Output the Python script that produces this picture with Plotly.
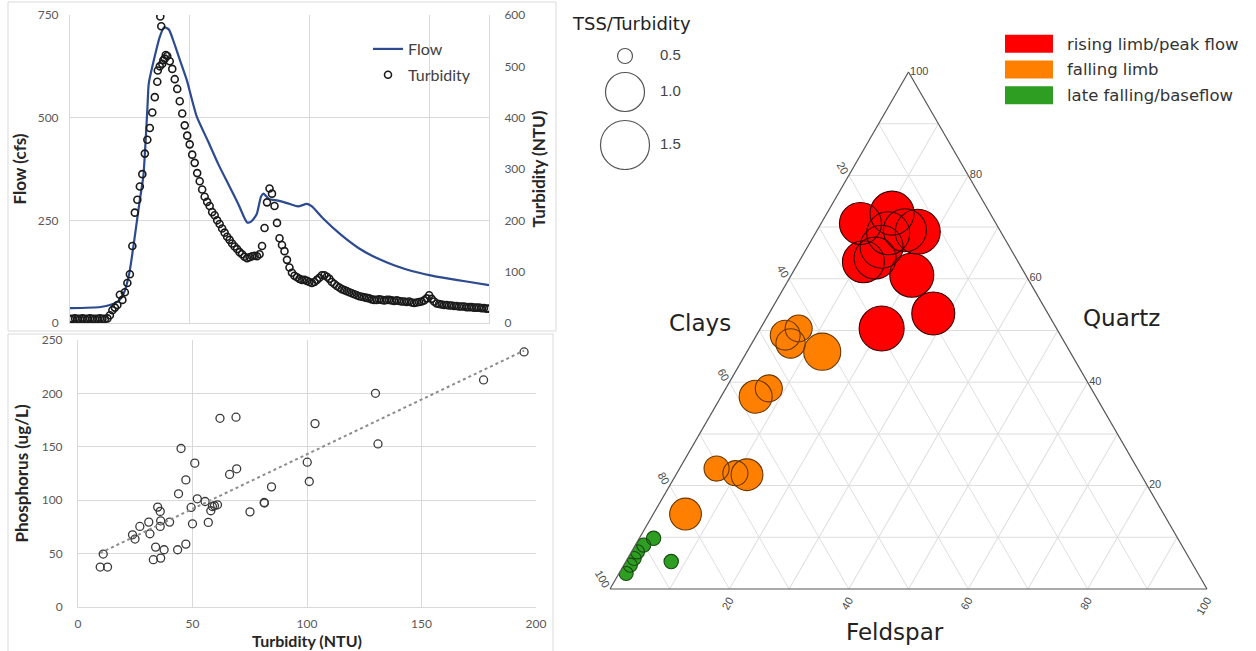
import numpy as np
import plotly.graph_objects as go

W, H = 1256, 651

# ---------------- Hydrograph data (top-left) ----------------
flow_hours = [0, 6.1, 8.3, 9.7, 10.8, 11.9, 12.9, 14.0, 14.7, 15.5, 15.8, 16.9, 18.0, 18.9,
              19.8, 20.9, 21.9, 23.4, 25.4, 27.7, 29.8, 32.0, 33.8, 35.5, 36.3, 37.4, 38.3,
              38.8, 39.9, 41.7, 43.5, 45.7, 47.5, 48.5, 50.7, 54.3, 57.9, 61.5, 65.1, 68.7,
              72.3, 75.9, 79.5, 84.0]
flow_cfs = [36, 39, 45, 53, 73, 122, 203, 300, 357, 519, 584, 645, 697, 720,
            715, 681, 645, 592, 503, 442, 385, 332, 288, 245, 247, 264, 308,
            315, 302, 298, 292, 284, 290, 284, 255, 215, 182, 158, 140, 126,
            116, 108, 101, 92]

turb_step_hours = 0.5
turb_ntu = [8, 8, 9, 8, 8, 9, 8, 8, 9, 8, 8, 8, 9, 8, 8, 9,
            15, 25, 30, 35, 55, 45, 60, 78, 95, 150, 215, 240, 266, 290, 330, 357,
            380, 410, 440, 470, 500, 505, 515, 520, 510, 495, 475, 456, 432, 408,
            385, 365, 348, 328, 312, 292, 276, 260, 246, 236, 228, 216, 210, 200,
            193, 184, 176, 168, 162, 155, 149, 144, 138, 134, 129, 126, 128, 130,
            131, 130, 134, 150, 185, 235, 262, 252, 228, 195, 165, 152, 140, 123,
            108, 98, 92, 89, 86, 84, 84, 82, 80, 78, 80, 84, 88, 93, 93, 90, 86,
            80, 76, 72, 69, 66, 64, 62, 60, 58, 56, 54, 52, 51, 50, 49, 48, 46,
            45, 45, 46, 45, 44, 45, 45, 44, 43, 44, 43, 42, 42, 41, 42, 40, 39,
            40, 41, 42, 44, 48, 54, 47, 42, 38, 37, 36, 35, 35, 34, 34, 33, 33,
            32, 32, 32, 31, 31, 31, 30, 30, 30, 29, 29, 28, 28]
turb_extra_hours = [17.6, 18.1, 18.3, 18.7, 19.2]
turb_extra_ntu = [492, 597, 578, 512, 522]

# ---------------- Turbidity vs phosphorus (bottom-left) ----------------
turb_p = [9.7, 12.9, 11.0, 23.8, 24.9, 27.0, 30.9, 31.4, 32.9, 33.9, 34.8, 35.9, 36.1, 35.9,
          36.1, 37.6, 40.0, 43.5, 43.9, 45.0, 47.1, 47.1, 49.4, 50.0, 51.0, 52.1, 55.5, 56.9,
          58.0, 58.7, 59.6, 60.9, 62.0, 66.2, 69.0, 69.3, 75.1, 81.3, 81.4, 84.5, 100.1,
          101.0, 103.5, 129.9, 131.0, 177.1, 194.8]
phos = [37.4, 37.4, 49.6, 67.6, 63.6, 75.4, 79.5, 68.6, 44.3, 56.1, 93.5, 89.5, 80.7, 75.4,
        45.8, 53.6, 79.5, 53.6, 106.0, 148.4, 119.0, 58.9, 93.2, 77.9, 134.7, 101.3, 98.8, 79.2,
        90.1, 94.1, 94.8, 95.7, 176.7, 124.1, 177.7, 129.4, 89.1, 97.9, 97.3, 112.5, 135.6,
        117.5, 171.7, 200.1, 152.7, 212.6, 238.8]

# ---------------- Ternary data (right) ----------------
quartz = [70.7, 72.7, 69.1, 68.8, 69.4, 66.2, 63.3, 64.0, 60.7, 53.3, 50.4,
          50.4, 49.1, 47.5, 45.9, 37.2, 38.8, 23.3, 22.4, 22.1, 14.5,
          9.8, 8.5, 7.2, 5.9, 4.6, 3.0, 5.3]
clays = [22.7, 16.4, 13.9, 19.0, 15.9, 21.4, 25.9, 23.6, 19.1, 19.2, 29.3,
         43.2, 46.1, 46.0, 41.5, 57.0, 54.0, 70.5, 67.8, 66.0, 80.1,
         87.8, 90.1, 91.8, 93.0, 94.3, 95.8, 87.1]
feldspar = [6.6, 10.9, 17.0, 12.2, 14.7, 12.4, 10.8, 12.4, 20.2, 27.5, 20.3,
            6.4, 4.8, 6.5, 12.6, 5.8, 7.2, 6.2, 9.8, 11.9, 5.4,
            2.4, 1.4, 1.0, 1.1, 1.1, 1.2, 7.6]
tss_ratio = [1.15, 1.25, 1.3, 1.2, 1.2, 1.2, 1.15, 1.15, 1.25, 1.2, 1.3,
             0.75, 0.81, 0.8, 0.96, 0.875, 0.75, 0.71, 0.71, 0.85, 0.85,
             0.48, 0.47, 0.47, 0.47, 0.47, 0.47, 0.48]
phase = [0] * 11 + [1] * 10 + [2] * 7

phase_names = ["rising limb/peak flow", "falling limb", "late falling/baseflow"]
phase_fill = ["#ff0000", "#ff8000", "#2e9e22"]
phase_edge = ["#3a0000", "#6a3600", "#174a10"]

size_legend_ratios = [0.5, 1.0, 1.5]
size_legend_labels = ["0.5", "1.0", "1.5"]

ternary_ticks = [0, 10, 20, 30, 40, 50, 60, 70, 80, 90]


def ratio_to_diameter(r):
    return np.interp(r, [0, 0.5, 1.0, 1.5, 2.0], [0, 15, 39, 49, 59])


def ternary_ticktext(vals):
    return [str(100 - v) if v % 20 == 0 else "" for v in vals]


def px_x(p):
    return p / W


def px_y(p):
    return 1 - p / H


grid = "#d9d9d9"
tickc = "#595959"
lfont = "Lato"
tfont = "DejaVu Sans"

fig = go.Figure()

# ---- top-left hydrograph ----
turb_hours = list(np.arange(len(turb_ntu)) * turb_step_hours) + turb_extra_hours
turb_all = turb_ntu + turb_extra_ntu
fig.add_trace(go.Scatter(x=flow_hours, y=flow_cfs, mode="lines", name="Flow",
                         line=dict(color="#2b4a8f", width=2.2, shape="spline", smoothing=0.6),
                         xaxis="x", yaxis="y", legendgroup="flow"))
fig.add_trace(go.Scatter(x=turb_hours, y=turb_all, mode="markers", name="Turbidity",
                         marker=dict(symbol="circle-open", size=7, color="#1a1a1a",
                                     line=dict(width=1.6), opacity=1),
                         xaxis="x", yaxis="y2", legendgroup="turb"))

# ---- bottom-left scatter ----
fig.add_trace(go.Scatter(x=turb_p, y=phos, mode="markers", showlegend=False,
                         marker=dict(symbol="circle-open", size=8, color="#3a3a3a",
                                     line=dict(width=1.3), opacity=1),
                         xaxis="x2", yaxis="y3"))
slope, intercept = np.polyfit(turb_p, phos, 1)
fit_x = np.array([min(turb_p), max(turb_p)])
fig.add_trace(go.Scatter(x=fit_x, y=slope * fit_x + intercept, mode="lines", showlegend=False,
                         line=dict(color="#8c8c8c", width=2, dash="dot"),
                         xaxis="x2", yaxis="y3"))

# ---- ternary ----
diam = ratio_to_diameter(np.array(tss_ratio))
fills = [phase_fill[p] for p in phase]
edges = [phase_edge[p] for p in phase]
fig.add_trace(go.Scatterternary(a=quartz, b=clays, c=feldspar, mode="markers",
                                marker=dict(size=diam, color=fills, line=dict(width=0),
                                            opacity=1),
                                showlegend=False, subplot="ternary"))
fig.add_trace(go.Scatterternary(a=quartz, b=clays, c=feldspar, mode="markers",
                                marker=dict(symbol="circle-open", size=diam, color=edges,
                                            line=dict(width=1.1), opacity=1),
                                showlegend=False, subplot="ternary"))

# ---- size legend (pixel-scaled hidden axes) ----
leg_d = ratio_to_diameter(np.array(size_legend_ratios))
gap = 9
top = 48.5
centers = []
for d in leg_d:
    centers.append(top + d / 2)
    top += d + gap
fig.add_trace(go.Scatter(x=[625] * 3, y=centers, mode="markers", showlegend=False,
                         marker=dict(symbol="circle-open", size=leg_d, color="#555555",
                                     line=dict(width=1.2), opacity=1),
                         xaxis="x3", yaxis="y4"))
fig.add_trace(go.Scatter(x=[660] * 3, y=centers, mode="text", text=size_legend_labels,
                         textposition="middle right", showlegend=False,
                         textfont=dict(family="Liberation Sans", size=15, color="#444444"),
                         xaxis="x3", yaxis="y4"))

# ---- color legend as bars ----
fig.add_trace(go.Bar(y=phase_names, x=[1, 1, 1], orientation="h", showlegend=False,
                     marker=dict(color=phase_fill, line=dict(width=0)),
                     xaxis="x4", yaxis="y5", hoverinfo="skip"))

title_font = dict(family=lfont, size=17, color="#262626", weight="bold")
tick_font = dict(family=lfont, size=12, color=tickc)
ann_font = dict(family=tfont, size=23, color="#222222")

fig.update_layout(
    width=W, height=H, margin=dict(l=0, r=0, t=0, b=0, autoexpand=False),
    paper_bgcolor="white", plot_bgcolor="white",
    bargap=0.3,
    showlegend=True,
    legend=dict(x=px_x(368), y=px_y(32), xanchor="left", yanchor="top",
                bgcolor="rgba(0,0,0,0)", font=dict(family=lfont, size=16, color="#404040"),
                tracegroupgap=2, itemwidth=30),
    xaxis=dict(domain=[px_x(70), px_x(489)], range=[0, 84], tickvals=[24, 48, 72],
               showticklabels=False, showgrid=True, gridcolor=grid, zeroline=False,
               showline=True, linecolor=grid, ticks="", anchor="y", automargin=False),
    yaxis=dict(domain=[px_y(323), px_y(15)], range=[0, 750], tickvals=[0, 250, 500, 750],
               showgrid=True, gridcolor=grid, zeroline=False, showline=True, linecolor=grid,
               tickfont=tick_font, ticklabelstandoff=8, automargin=False,
               title=dict(text="Flow (cfs)", font=title_font, standoff=6),
               anchor="x"),
    yaxis2=dict(overlaying="y", side="right", range=[0, 600],
                tickvals=[0, 100, 200, 300, 400, 500, 600], showgrid=False, zeroline=False,
                showline=True, linecolor=grid, automargin=False,
                tickfont=tick_font, ticklabelstandoff=12,
                title=dict(text="Turbidity (NTU)", font=title_font, standoff=8),
                anchor="x"),
    xaxis2=dict(domain=[px_x(78), px_x(536)], range=[0, 200], tickvals=[0, 50, 100, 150, 200],
                showgrid=True, gridcolor=grid, zeroline=False, showline=True, linecolor=grid,
                tickfont=tick_font, ticklabelstandoff=6, automargin=False,
                title=dict(text="Turbidity (NTU)",
                           font=dict(family=lfont, size=16, color="#262626", weight="bold"),
                           standoff=5),
                anchor="y3"),
    yaxis3=dict(domain=[px_y(607), px_y(340)], range=[0, 250], tickvals=[0, 50, 100, 150, 200, 250],
                showgrid=True, gridcolor=grid, zeroline=False, showline=True, linecolor=grid,
                tickfont=tick_font, ticklabelstandoff=12, automargin=False,
                title=dict(text="Phosphorus (ug/L)", font=title_font, standoff=8),
                anchor="x2"),
    xaxis3=dict(domain=[px_x(590), px_x(700)], range=[590, 700], visible=False, anchor="y4",
                automargin=False),
    yaxis4=dict(domain=[px_y(170), px_y(30)], range=[170, 30], visible=False, anchor="x3",
                automargin=False),
    xaxis4=dict(domain=[px_x(1005), px_x(1053)], range=[0, 1], visible=False, anchor="y5",
                automargin=False),
    yaxis5=dict(domain=[px_y(108), px_y(31)], type="category", autorange="reversed",
                side="right", showgrid=False, showline=False, zeroline=False, ticks="",
                ticklabelstandoff=13, automargin=False,
                tickfont=dict(family=tfont, size=16.5, color="#333333"), anchor="x4"),
    ternary=dict(
        domain=dict(x=[px_x(609), px_x(1208)], y=[px_y(589), px_y(72)]),
        sum=100, bgcolor="white",
        aaxis=dict(title=dict(text=""), tickmode="array", tickvals=ternary_ticks,
                   ticktext=ternary_ticktext(ternary_ticks), tickangle=60,
                   tickfont=dict(family="Liberation Sans", size=11, color="#4a4a4a"),
                   ticks="", linecolor="#555555", linewidth=1.2, gridcolor="#dedede",
                   gridwidth=1, showgrid=True),
        baxis=dict(title=dict(text=""), tickmode="array", tickvals=ternary_ticks,
                   ticktext=ternary_ticktext(ternary_ticks), tickangle=-60,
                   tickfont=dict(family="Liberation Sans", size=11, color="#4a4a4a"),
                   ticks="", linecolor="#555555", linewidth=1.2, gridcolor="#dedede",
                   gridwidth=1, showgrid=True),
        caxis=dict(title=dict(text=""), tickmode="array", tickvals=ternary_ticks,
                   ticktext=ternary_ticktext(ternary_ticks), tickangle=0,
                   tickfont=dict(family="Liberation Sans", size=11, color="#4a4a4a"),
                   ticks="", linecolor="#555555", linewidth=1.2, gridcolor="#dedede",
                   gridwidth=1, showgrid=True),
    ),
    annotations=[
        dict(text="Clays", x=px_x(700), y=px_y(323), xref="paper", yref="paper",
             xanchor="center", yanchor="middle", showarrow=False, font=ann_font),
        dict(text="Quartz", x=px_x(1121), y=px_y(318), xref="paper", yref="paper",
             xanchor="center", yanchor="middle", showarrow=False, font=ann_font),
        dict(text="Feldspar", x=px_x(895), y=px_y(632), xref="paper", yref="paper",
             xanchor="center", yanchor="middle", showarrow=False, font=ann_font),
        dict(text="TSS/Turbidity", x=px_x(631), y=px_y(23), xref="paper", yref="paper",
             xanchor="center", yanchor="middle", showarrow=False,
             font=dict(family=tfont, size=18, color="#222222")),
    ],
    shapes=[
        dict(type="rect", xref="paper", yref="paper", x0=px_x(8), x1=px_x(556),
             y0=px_y(331), y1=px_y(2), line=dict(color=grid, width=1)),
        dict(type="rect", xref="paper", yref="paper", x0=px_x(8), x1=px_x(553),
             y0=px_y(660), y1=px_y(334), line=dict(color=grid, width=1)),
    ],
)

fig.write_html("out.html", config={"displayModeBar": False},
               post_script="document.body.style.margin='0';document.body.style.overflow='hidden';")
